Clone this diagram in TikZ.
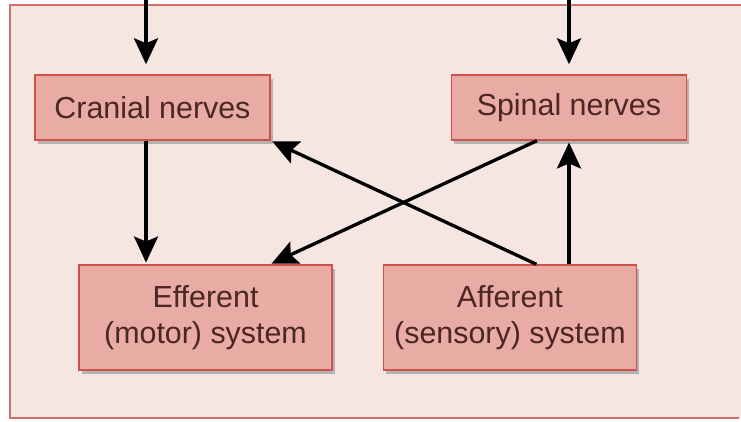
\documentclass[tikz,border=0pt]{standalone}
\usepackage{fontspec}
\setmainfont{Liberation Sans}
\usetikzlibrary{positioning,arrows.meta,shadows}
\definecolor{panelpink}{HTML}{F6E6E2}
\definecolor{framered}{HTML}{D0706A}
\definecolor{boxfill}{HTML}{E9ACA4}
\definecolor{boxline}{HTML}{D2504A}
\definecolor{textbrown}{HTML}{4A2624}
\tikzset{>={Stealth[length=5.2mm,width=4.8mm,inset=1mm]}}
\tikzset{
  nervebox/.style={draw=boxline, fill=boxfill, line width=0.8pt, text=textbrown,
    minimum width=4.7cm, minimum height=1.3cm, inner sep=0pt,
    font=\fontsize{17.3}{20.5}\selectfont,
    drop shadow={shadow xshift=0.6mm, shadow yshift=-0.8mm, fill=gray!70, opacity=0.8}},
  systembox/.style={nervebox, minimum width=5.06cm, minimum height=2.1cm, align=center}
}

\begin{document}
\begin{tikzpicture}[line width=1.9pt, shorten >= 1pt]
  \useasboundingbox (0,0) rectangle (14.82,-8.44);
  \fill[panelpink] (0.2,-0.1) rectangle (14.82,-8.36);
  \draw[framered, line width=0.8pt] (14.82,-0.1) -- (0.2,-0.1) -- (0.2,-8.36) -- (14.82,-8.36);

  \node[nervebox] (cn) at (3.05,-2.15) {Cranial nerves};
  \node[nervebox] (sn) [right=3.6cm of cn] {Spinal nerves};
  \node[systembox] (eff) at (4.11,-6.35) {Efferent\\(motor) system};
  \node[systembox] (aff) [right=1cm of eff] {Afferent\\(sensory) system};

  \coordinate (inL) at (2.92,0);   % incoming from above
  \coordinate (inR) at (11.38,0);

  \draw[->, shorten >= 2mm] (inL) -- (inL |- cn.north);
  \draw[->, shorten >= 2mm] (inR) -- (inR |- sn.north);

  \path[->] (inL |- cn.south) edge (inL |- eff.north)
            (inR |- aff.north) edge (inR |- sn.south)
            ([xshift=-6.4mm]sn.south) edge ([xshift=12.9mm]eff.north)
            ([xshift=5.3mm]aff.north) edge (cn.south east);
\end{tikzpicture}
\end{document}
